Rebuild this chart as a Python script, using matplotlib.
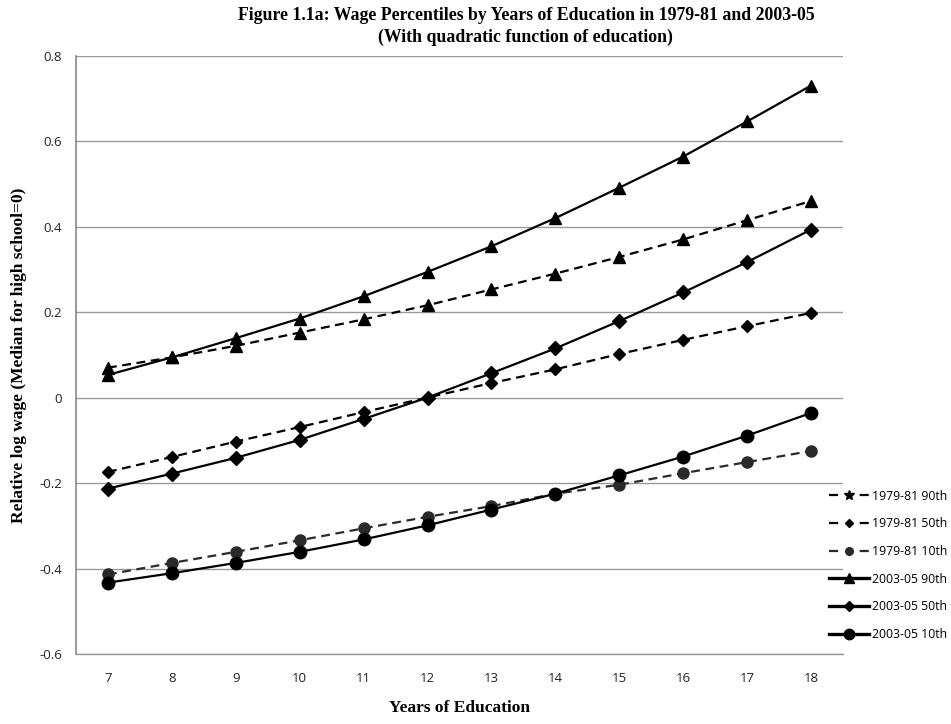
import matplotlib
matplotlib.use("Agg")
import matplotlib.pyplot as plt
from matplotlib.lines import Line2D

years = [7, 8, 9, 10, 11, 12, 13, 14, 15, 16, 17, 18]
p90_7981 = [0.070, 0.094, 0.121, 0.152, 0.183, 0.216, 0.253, 0.290, 0.329, 0.370, 0.415, 0.460]
p50_7981 = [-0.174, -0.139, -0.103, -0.069, -0.034, 0.000, 0.034, 0.066, 0.102, 0.135, 0.167, 0.198]
p10_7981 = [-0.414, -0.387, -0.361, -0.334, -0.306, -0.279, -0.254, -0.225, -0.204, -0.177, -0.151, -0.125]
p90_0305 = [0.053, 0.094, 0.139, 0.185, 0.237, 0.294, 0.354, 0.420, 0.491, 0.564, 0.646, 0.730]
p50_0305 = [-0.213, -0.178, -0.141, -0.099, -0.050, 0.000, 0.057, 0.115, 0.179, 0.246, 0.317, 0.393]
p10_0305 = [-0.433, -0.411, -0.387, -0.361, -0.332, -0.299, -0.262, -0.225, -0.182, -0.138, -0.089, -0.036]
labels = ["1979-81 90th", "1979-81 50th", "1979-81 10th",
          "2003-05 90th", "2003-05 50th", "2003-05 10th"]
yticks = [-0.6, -0.4, -0.2, 0, 0.2, 0.4, 0.6, 0.8]
ytick_labels = ["-0.6", "-0.4", "-0.2", "0", "0.2", "0.4", "0.6", "0.8"]

fig = plt.figure(figsize=(9.51, 7.24), dpi=100)
ax = fig.add_axes([0.0799, 0.0967, 0.8065, 0.8264])

pos = list(range(len(years)))
dash = (0, (4, 2.5))
ax.plot(pos, p90_7981, color="black", lw=1.6, ls=dash, marker="^", ms=8, zorder=3)
ax.plot(pos, p50_7981, color="black", lw=1.6, ls=dash, marker="D", ms=6, zorder=3)
ax.plot(pos, p10_7981, color="#2a2a2a", lw=1.6, ls=dash, marker="o", ms=8, zorder=3)
ax.plot(pos, p90_0305, color="black", lw=1.6, ls="-", marker="^", ms=9, zorder=4)
ax.plot(pos, p50_0305, color="black", lw=1.6, ls="-", marker="D", ms=7, zorder=4)
ax.plot(pos, p10_0305, color="black", lw=1.6, ls="-", marker="o", ms=9, zorder=4)

ax.set_xlim(-0.5, len(years) - 0.5)
ax.set_ylim(-0.6, 0.8)
ax.set_yticks(yticks)
ax.set_yticklabels(ytick_labels)
ax.set_xticks(pos)
ax.set_xticklabels([str(y) for y in years])
ax.tick_params(axis="y", length=0, labelsize=9.5, labelcolor="#222222", pad=10)
ax.tick_params(axis="x", length=0, labelsize=9.5, labelcolor="#222222", pad=13)
for lab in ax.get_xticklabels() + ax.get_yticklabels():
    lab.set_fontfamily("Open Sans")
ax.yaxis.grid(True, color="#999999", lw=1)
ax.axhline(-0.6, color="#999999", lw=1, clip_on=False, zorder=0)
ax.set_axisbelow(True)
for s in ["top", "right", "bottom"]:
    ax.spines[s].set_visible(False)
ax.spines["left"].set_color("#888888")
ax.spines["left"].set_linewidth(1.2)

ax.set_xlabel("Years of Education", fontfamily="Liberation Serif",
              fontweight="bold", fontsize=12.5, labelpad=11)
ax.set_ylabel("Relative log wage (Median for high school=0)",
              fontfamily="Liberation Serif", fontweight="bold", fontsize=12.5,
              labelpad=9)

fig.text(0.553, 0.979, "Figure 1.1a: Wage Percentiles by Years of Education in 1979-81 and 2003-05",
         ha="center", va="center", fontfamily="Liberation Serif",
         fontweight="bold", fontsize=12.8)
fig.text(0.553, 0.948, "(With quadratic function of education)",
         ha="center", va="center", fontfamily="Liberation Serif",
         fontweight="bold", fontsize=12.8)

ldash = (0, (4.1, 9.7))
handles = [
    Line2D([], [], color="black", lw=1.6, ls=ldash, marker="*", ms=7),
    Line2D([], [], color="black", lw=1.6, ls=ldash, marker="D", ms=4.5),
    Line2D([], [], color="#2a2a2a", lw=1.6, ls=ldash, marker="o", ms=5.5),
    Line2D([], [], color="black", lw=2.4, ls="-", marker="^", ms=7.5),
    Line2D([], [], color="black", lw=2.4, ls="-", marker="D", ms=5.5),
    Line2D([], [], color="black", lw=2.4, ls="-", marker="o", ms=7.5),
]
leg = fig.legend(handles, labels, loc="center left",
                 bbox_to_anchor=(0.8715, 0.219), frameon=False,
                 prop={"family": "Open Sans", "size": 8.8},
                 handlelength=3.27, handletextpad=0.25, labelspacing=1.2,
                 borderaxespad=0, borderpad=0)

fig.savefig("out.png", dpi=100)
